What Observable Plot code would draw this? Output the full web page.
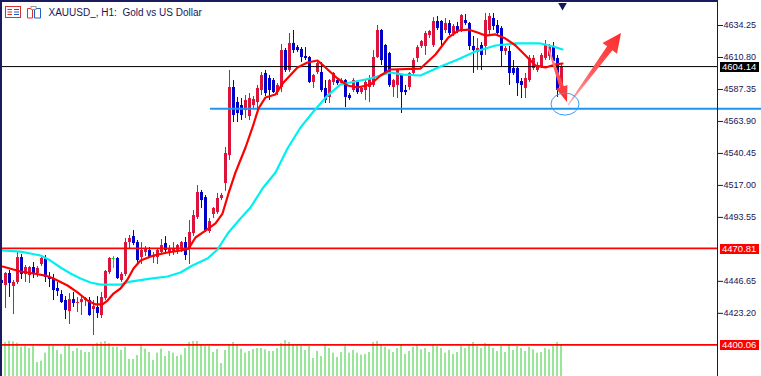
<!DOCTYPE html>
<html><head><meta charset="utf-8">
<script src="https://cdn.jsdelivr.net/npm/d3@7"></script>
<script src="https://cdn.jsdelivr.net/npm/@observablehq/plot@0.6"></script>
<style>
html,body{margin:0;padding:0;background:#fff;}
#wrap{position:relative;width:761px;height:376px;overflow:hidden;background:#fff;}
#wrap > svg{position:absolute;left:0;top:0;}
.bd{position:absolute;background:#1a1a5e;}
</style></head><body>
<div id="wrap"></div>
<script>
// ---------- data ----------
const titleText = "XAUUSD_, H1:\u00a0 Gold vs US Dollar";
const opens = [4447.3,4443.6,4452.4,4442.9,4445.8,4464.1,4451.7,4450.9,4456.8,4452.4,4459.0,4463.4,4449.5,4448.7,4441.4,4437.0,4432.6,4424.5,4433.3,4430.4,4431.1,4432.6,4432.6,4426.0,4427.5,4421.6,4434.1,4453.1,4463.4,4463.4,4447.3,4451.7,4475.1,4479.5,4475.1,4464.1,4467.8,4469.3,4464.1,4464.1,4467.8,4474.4,4467.1,4467.8,4469.3,4470.7,4475.1,4470.0,4481.7,4493.5,4511.8,4508.1,4483.2,4495.7,4497.1,4507.4,4518.4,4538.9,4588.8,4577.8,4575.6,4571.9,4567.5,4575.6,4577.8,4586.6,4599.1,4595.4,4593.9,4585.1,4588.8,4615.9,4601.3,4621.1,4618.1,4616.7,4611.5,4610.8,4592.5,4599.8,4599.8,4588.1,4581.5,4592.5,4593.9,4591.7,4593.9,4582.9,4586.6,4592.5,4585.1,4586.6,4588.8,4590.3,4610.8,4630.6,4619.6,4613.7,4588.8,4590.3,4597.6,4586.6,4588.8,4599.1,4610.1,4618.9,4618.9,4626.9,4619.6,4637.2,4637.2,4630.6,4635.7,4628.4,4633.5,4630.6,4637.9,4635.7,4618.9,4614.5,4619.6,4618.9,4630.6,4639.4,4634.3,4632.1,4615.2,4615.2,4602.7,4602.7,4593.2,4588.1,4593.9,4602.7,4601.3,4604.2,4610.1,4611.5,4618.9,4610.1,4588.1];
const highs = [4450.2,4453.1,4454.6,4447.3,4467.8,4466.3,4458.3,4457.5,4460.5,4457.5,4464.9,4465.6,4453.1,4451.7,4445.8,4439.9,4435.5,4437.7,4438.5,4434.8,4435.5,4434.8,4434.8,4432.6,4435.5,4438.5,4454.6,4464.1,4464.9,4464.1,4453.1,4478.1,4480.3,4483.9,4476.6,4475.1,4472.2,4471.5,4467.8,4470.7,4477.3,4479.5,4472.9,4475.1,4473.7,4475.9,4478.8,4491.3,4498.6,4516.9,4513.3,4509.6,4492.7,4500.8,4511.1,4511.1,4544.8,4601.3,4593.9,4581.5,4580.7,4582.9,4584.4,4582.2,4590.3,4599.8,4601.3,4597.6,4595.4,4591.7,4620.3,4617.4,4628.4,4630.6,4619.6,4618.1,4618.1,4611.5,4598.3,4607.1,4607.1,4593.9,4594.7,4599.8,4595.4,4595.4,4594.7,4584.4,4595.4,4593.9,4589.5,4593.9,4597.6,4615.9,4634.3,4631.3,4620.3,4614.5,4594.7,4602.0,4598.3,4590.3,4599.8,4610.1,4619.6,4623.3,4629.9,4630.6,4640.1,4640.9,4637.9,4639.4,4637.9,4635.0,4636.5,4642.3,4642.3,4636.5,4626.2,4624.7,4621.8,4643.1,4643.1,4643.1,4637.9,4633.5,4618.9,4618.9,4608.6,4604.2,4595.4,4599.1,4612.3,4612.3,4607.1,4613.7,4623.3,4620.3,4621.8,4612.3,4606.4];
const lows = [4443.6,4426.7,4434.8,4422.3,4444.3,4448.0,4445.8,4445.1,4448.7,4449.5,4457.5,4445.8,4442.1,4432.6,4435.5,4430.4,4418.7,4415.0,4427.5,4423.8,4421.6,4428.2,4421.0,4406.9,4419.4,4419.4,4432.6,4451.7,4456.1,4448.0,4445.8,4450.2,4470.7,4472.9,4459.7,4459.0,4464.9,4463.4,4459.7,4459.0,4466.3,4467.1,4464.9,4465.6,4466.3,4467.8,4461.9,4459.0,4479.5,4492.0,4500.1,4482.5,4481.7,4492.7,4495.7,4505.9,4512.6,4535.3,4563.1,4563.1,4564.6,4566.1,4564.6,4573.4,4571.9,4582.9,4582.2,4579.3,4584.4,4582.9,4585.1,4599.8,4599.8,4613.7,4614.5,4607.1,4608.6,4591.7,4588.1,4598.3,4585.1,4577.1,4577.1,4590.3,4590.3,4590.3,4574.1,4579.3,4585.1,4583.7,4583.7,4579.3,4577.8,4588.8,4610.1,4604.9,4597.6,4588.8,4581.5,4580.7,4569.7,4582.9,4586.6,4597.6,4607.1,4617.4,4612.3,4624.7,4618.1,4630.6,4619.6,4628.4,4626.9,4626.2,4628.4,4629.1,4634.3,4615.9,4599.1,4601.3,4601.3,4612.3,4627.7,4630.6,4626.9,4604.2,4612.3,4590.3,4597.6,4582.2,4580.7,4580.7,4592.5,4601.3,4599.8,4602.7,4608.6,4608.6,4606.4,4581.5,4586.6];
const closes = [4445.1,4452.4,4445.1,4445.8,4464.1,4451.7,4456.8,4456.8,4452.4,4456.1,4463.4,4449.5,4448.0,4439.9,4439.2,4431.1,4425.3,4433.3,4430.4,4431.1,4433.3,4434.1,4421.6,4428.2,4423.1,4434.8,4453.9,4463.4,4463.4,4448.7,4451.7,4475.1,4478.1,4474.4,4461.9,4469.3,4470.0,4464.1,4465.6,4469.3,4472.9,4469.3,4470.0,4470.0,4472.9,4475.1,4465.6,4482.5,4494.9,4511.8,4505.9,4483.9,4490.5,4500.1,4507.4,4509.6,4540.4,4588.8,4568.3,4569.7,4568.3,4579.3,4580.7,4580.0,4588.1,4597.6,4584.4,4586.6,4585.1,4590.3,4615.9,4601.3,4621.1,4615.9,4615.9,4610.8,4610.1,4592.5,4597.6,4606.4,4586.6,4579.3,4593.9,4599.1,4591.7,4593.9,4581.5,4580.7,4593.9,4585.1,4588.1,4592.5,4595.4,4610.8,4630.6,4608.6,4599.8,4590.3,4593.9,4601.3,4585.1,4585.1,4599.1,4608.6,4618.1,4622.5,4628.4,4629.9,4637.2,4632.1,4623.3,4635.7,4628.4,4633.5,4629.9,4641.6,4635.7,4618.9,4615.9,4617.4,4612.3,4637.9,4640.9,4633.5,4628.4,4615.2,4617.4,4599.1,4599.1,4591.7,4590.3,4595.4,4610.1,4610.1,4604.2,4612.3,4619.6,4618.1,4607.9,4586.6,4604.14];
const volumes = [1000,1020,1060,1040,1000,880,910,840,910,420,460,700,910,910,780,660,910,960,750,840,780,720,720,910,1000,1020,1050,990,880,880,780,880,510,510,630,960,820,720,480,700,820,600,750,700,600,640,840,1020,1050,1050,960,900,900,720,810,390,780,960,1020,960,820,700,750,810,840,840,800,750,750,840,990,1080,1020,960,920,900,780,900,540,750,600,960,840,700,570,720,910,700,780,700,640,660,720,1020,1050,960,880,800,720,840,960,660,750,880,930,800,840,720,960,900,840,700,780,660,720,900,840,960,1020,900,840,990,960,840,750,900,720,960,780,900,840,750,880,800,700,720,840,800,900,1020,960];
// moving averages (bar index, price)
const fastIdx = [0.25,4.75,8,11,13,16.5,19,21.5,23.5,25.25,26.5,28,29.75,31.5,33,34.75,38,41.5,44.75,46.75,48.5,51,53.5,55.25,56.75,58.5,61,62.75,64.25,66,68.5,70.5,74,76.5,79,81,84,86.5,89,92.25,94.75,97.25,104.75,108.5,111.75,114.25,116.75,119,121,123.5,126,128.5,131,133.5,136,138.5,140.25];
const fastVal = [4457.5,4453.9,4452.4,4450.9,4448.7,4443.6,4438.5,4432.6,4429.7,4429.7,4432.6,4437.7,4441.4,4448.0,4456.1,4461.9,4465.6,4467.8,4469.3,4470.7,4478.8,4483.9,4489.1,4496.4,4511.1,4526.5,4544.8,4559.5,4573.4,4581.5,4583.7,4592.5,4603.5,4607.1,4608.6,4603.5,4595.4,4590.3,4588.8,4591.0,4597.6,4602.0,4602.7,4613.0,4625.5,4630.6,4631.3,4629.1,4626.9,4627.7,4624.7,4619.6,4612.3,4604.9,4603.5,4605.7,4606.4];
const slowIdx = [0.25,4.75,7.25,9.75,12.25,14.75,17.25,19.75,22.25,24.75,29.75,32.25,37.25,41.5,44.75,47.75,51.5,54,56.75,59.75,62.25,65.25,68.5,71.5,74.75,78,81.5,84.75,87.25,92.25,97.25,100.5,104.75,109.75,113.5,118.5,123.5,128.5,134.75,138,140.25];
const slowVal = [4469.3,4468.5,4467.1,4465.6,4461.9,4456.8,4452.4,4448.7,4445.8,4444.3,4444.3,4446.5,4448.7,4450.2,4453.1,4458.3,4463.4,4470.0,4482.5,4492.7,4500.8,4514.7,4526.5,4544.1,4559.5,4571.2,4582.9,4591.0,4592.5,4595.4,4599.8,4598.3,4597.6,4604.2,4608.6,4615.2,4619.6,4621.1,4621.1,4618.9,4616.7];
// axis & levels
const yTicks = [4634.25,4610.80,4587.35,4563.90,4540.45,4517.00,4493.55,4446.65,4423.20];
const lastPrice = 4604.14;
const redLevels = [4470.81,4400.06];
const boxPrices = [4604.14,4470.81,4400.06];
const boxColors = ["#000000","#ff0000","#ff0000"];
const supportLevel = 4573.2, supportFrom = 52.25, supportTo = 190;
// annotations
const arrows = [
  {i0:136.5,p0:4620.0,i1:141.5,p1:4577.8,w0:1,w1:4.5,hl:16,hw:12},
  {i0:141.75,p0:4575.6,i1:155,p1:4628.4,w0:1,w1:6.5,hl:19,hw:18}
];
const circleAt = {i:141,p:4576.3,rx:14,ry:11};
const shiftMarker = [140.25];

// ---------- build ----------
const W = 761, H = 376;
const xDomain = [0.25, 179];
const yDomain = [4376.88, 4651.13];
const navy = "#16165a";
const font = "'Liberation Sans', Arial, sans-serif";
const candles = opens.map((o,i)=>({i, o, h:highs[i], l:lows[i], c:closes[i], v:volumes[i]}));
const col = d => d.c > d.o ? "#dc143c" : d.c < d.o ? "#0000cd" : "#00dd00";
const fast = fastIdx.map((i,k)=>({i, v:fastVal[k]}));
const slow = slowIdx.map((i,k)=>({i, v:slowVal[k]}));
const common = {width:W, height:H, marginLeft:2, marginRight:44, marginTop:2, marginBottom:0,
  style:{background:"transparent", fontFamily:font, color:navy}};

const volPlot = Plot.plot({...common,
  x:{domain:xDomain, axis:null}, y:{domain:[0,11220], axis:null},
  marks:[Plot.rect(candles,{x1:d=>d.i-0.125, x2:d=>d.i+0.125, y1:0, y2:"v", fill:"#32cd32", stroke:null})]
});

function priceBoxes(index, scales, values, dim){
  const g = d3.create("svg:g").attr("text-anchor","start");
  const x0 = dim.width - dim.marginRight + 3;
  boxPrices.forEach((p,k)=>{
    const y = Math.round(scales.y(p));
    g.append("rect").attr("x",x0).attr("y",y-4).attr("width",39).attr("height",10).attr("fill",boxColors[k]);
    g.append("text").attr("x",x0+2).attr("y",y+1).attr("dy","0.32em").attr("fill","#fff")
      .attr("text-anchor","start").attr("font-size",9.5).attr("font-family",font).text(p.toFixed(2));
  });
  return g.node();
}
function annotations(index, scales){
  const g = d3.create("svg:g");
  const defs = g.append("defs");
  arrows.forEach((a,k)=>{
    const x0=scales.x(a.i0), y0=scales.y(a.p0), x1=scales.x(a.i1), y1=scales.y(a.p1);
    const dx=x1-x0, dy=y1-y0, len=Math.hypot(dx,dy), ux=dx/len, uy=dy/len, nx=-uy, ny=ux;
    const bx=x1-ux*a.hl, by=y1-uy*a.hl, w0=a.w0/2, w1=a.w1/2, hw=a.hw/2;
    const pts=[[x0+nx*w0,y0+ny*w0],[bx+nx*w1,by+ny*w1],[bx+nx*hw,by+ny*hw],[x1,y1],[bx-nx*hw,by-ny*hw],[bx-nx*w1,by-ny*w1],[x0-nx*w0,y0-ny*w0]];
    const id="ag"+k;
    const gr=defs.append("linearGradient").attr("id",id).attr("gradientUnits","userSpaceOnUse")
      .attr("x1",x0).attr("y1",y0).attr("x2",x1).attr("y2",y1);
    gr.append("stop").attr("offset",0).attr("stop-color","#ffb0b0");
    gr.append("stop").attr("offset",0.5).attr("stop-color","#ff5555");
    gr.append("stop").attr("offset",1).attr("stop-color","#ff2a2a");
    g.append("polygon").attr("points",pts.map(p=>p.join(",")).join(" ")).attr("fill",`url(#${id})`);
  });
  g.append("ellipse").attr("cx",scales.x(circleAt.i)).attr("cy",scales.y(circleAt.p))
    .attr("rx",circleAt.rx).attr("ry",circleAt.ry).attr("fill","none").attr("stroke","#3b9cf0").attr("stroke-width",1);
  return g.node();
}

const mainPlot = Plot.plot({...common,
  x:{domain:xDomain, axis:null}, y:{domain:yDomain, axis:null},
  marks:[
    Plot.ruleX(candles,{x:"i", y1:"l", y2:"h", stroke:col, strokeWidth:1}),
    Plot.ruleX(candles.filter(d=>d.o!==d.c),{x:"i", y1:"o", y2:"c", stroke:col, strokeWidth:3}),
    Plot.ruleY(candles.filter(d=>d.o===d.c),{y:"c", x1:d=>d.i-0.4, x2:d=>d.i+0.4, stroke:col, strokeWidth:1}),
    Plot.ruleY([lastPrice],{stroke:"#000", strokeWidth:1}),
    Plot.ruleY(redLevels,{stroke:"#ff0000", strokeWidth:1.6}),
    Plot.ruleY([supportLevel],{x1:supportFrom, x2:supportTo, stroke:"#1e96f0", strokeWidth:2.2}),
    Plot.line(slow,{x:"i", y:"v", stroke:"#00f0f0", strokeWidth:2.2}),
    Plot.line(fast,{x:"i", y:"v", stroke:"#ff0000", strokeWidth:2.2}),
    Plot.ruleX([xDomain[1]],{stroke:navy, strokeWidth:1}),
    Plot.axisY(yTicks,{anchor:"right", tickSize:5, tickPadding:1, label:null, tickFormat:d=>d.toFixed(2), fontSize:9, stroke:navy}),
    priceBoxes,
    annotations,
    Plot.text([titleText],{frameAnchor:"top-left", text:d=>d, dx:46, dy:6, textAnchor:"start", lineAnchor:"top", fontSize:10, fill:navy}),
    Plot.dot(shiftMarker,{x:d=>d, frameAnchor:"top", symbol:"triangle", r:3.2, fill:navy, stroke:null, rotate:180, dy:3})
  ]
});

const wrap = document.getElementById("wrap");
wrap.appendChild(volPlot);
wrap.appendChild(mainPlot);
// window border and title icons
wrap.insertAdjacentHTML("beforeend",
 `<div class="bd" style="left:0;top:0;width:2px;height:376px"></div>
  <div class="bd" style="left:0;top:0;width:718px;height:2px"></div>
  <svg style="position:absolute;left:5px;top:6px" width="40" height="13">
   <rect x="0.5" y="0.5" width="15" height="11" fill="#fff" stroke="#d83030"/>
   <line x1="2.5" y1="3.5" x2="7" y2="3.5" stroke="#d83030"/><line x1="2.5" y1="6" x2="7" y2="6" stroke="#d83030"/><line x1="2.5" y1="8.5" x2="7" y2="8.5" stroke="#d83030"/>
   <line x1="9" y1="3.5" x2="14" y2="3.5" stroke="#2060c0"/><line x1="9" y1="6" x2="14" y2="6" stroke="#2060c0"/><line x1="9" y1="8.5" x2="14" y2="8.5" stroke="#2060c0"/>
   <path d="M22.5 2.5 h5 v9.5 h-5 z" fill="#fff" stroke="#d83030"/>
   <path d="M29.5 2.5 h6 v9.5 h-6 z" fill="#fff" stroke="#2060c0"/>
   <rect x="26" y="0.5" width="5" height="3" fill="#fff" stroke="#999"/>
  </svg>`);
</script>
</body></html>
